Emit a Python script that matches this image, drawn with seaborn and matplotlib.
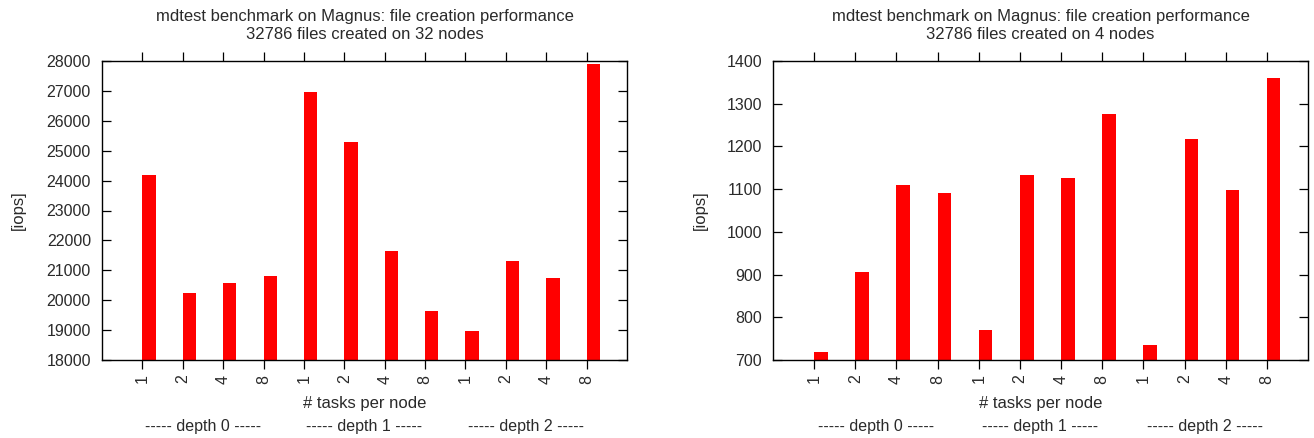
import matplotlib
matplotlib.use("Agg")
import matplotlib.pyplot as plt
import matplotlib.transforms as mtransforms
import seaborn as sns
import pandas as pd
import numpy as np

# ---- data ----
task_labels = ["1", "2", "4", "8", "1", "2", "4", "8", "1", "2", "4", "8"]
depth_labels = ["----- depth 0 -----", "----- depth 1 -----", "----- depth 2 -----"]
iops_32_nodes = [24190, 20235, 20585, 20810, 26975, 25280, 21655, 19630, 18965, 21300, 20730, 27910]
iops_4_nodes = [718, 905, 1110, 1092, 771, 1134, 1125, 1275, 734, 1217, 1098, 1360]
titles = [
    "mdtest benchmark on Magnus: file creation performance\n32786 files created on 32 nodes",
    "mdtest benchmark on Magnus: file creation performance\n32786 files created on 4 nodes",
]
ylims = [(18000, 28000), (700, 1400)]
yticks = [list(range(18000, 28001, 1000)), list(range(700, 1401, 100))]

sns.set_theme(style="ticks")
plt.rcParams["font.family"] = ["Liberation Sans", "DejaVu Sans"]
TXT = "#2a2a2a"
plt.rcParams["text.color"] = TXT
plt.rcParams["axes.labelcolor"] = TXT
plt.rcParams["xtick.color"] = "black"
plt.rcParams["ytick.color"] = "black"
plt.rcParams["xtick.labelcolor"] = TXT
plt.rcParams["ytick.labelcolor"] = TXT

fig = plt.figure(figsize=(13.14, 4.38), dpi=100)
axes_rects = [
    [102 / 1314, 78 / 438, 525 / 1314, 299 / 438],
    [773 / 1314, 78 / 438, 535 / 1314, 299 / 438],
]
BAR_W = 0.33
tick_offset = -BAR_W / 2
ylabel_x = [-0.145, -0.122]
FS_TICK = 11.5
FS_LAB = 12

for k, values in enumerate([iops_32_nodes, iops_4_nodes]):
    ax = fig.add_axes(axes_rects[k])
    df = pd.DataFrame({"pos": list(range(len(values))), "iops": values})
    sns.barplot(data=df, x="pos", y="iops", color="#ff0000", saturation=1,
                width=BAR_W, linewidth=0, ax=ax)
    ax.set_ylim(*ylims[k])
    ax.set_yticks(yticks[k])
    ax.set_yticklabels([str(v) for v in yticks[k]], fontsize=FS_TICK)
    pos = np.arange(len(values)) + tick_offset
    ax.set_xticks(pos)
    ax.set_xticklabels(task_labels, rotation=90, fontsize=FS_TICK)
    ax.set_xlim(pos[0] - 1.0, pos[-1] + 1.0)
    ax.tick_params(axis="y", direction="in", length=6.5, width=0.9,
                   left=True, right=True, pad=8)
    ax.tick_params(axis="x", direction="out", length=6.5, width=0.9,
                   top=True, bottom=True, pad=4)
    for s in ax.spines.values():
        s.set_visible(True)
        s.set_linewidth(1.0)
        s.set_color("black")
    ax.set_xlabel("# tasks per node", fontsize=FS_LAB)
    ax.xaxis.set_label_coords(0.5, -0.122)
    ax.xaxis.label.set_va("top")
    ax.set_ylabel("[iops]", fontsize=FS_LAB)
    ax.yaxis.set_label_coords(ylabel_x[k], 0.5)
    ax.set_title(titles[k], fontsize=FS_LAB, pad=16, linespacing=1.25)
    trans = mtransforms.blended_transform_factory(ax.transData, ax.transAxes)
    for g, lab in enumerate(depth_labels):
        ax.text(g * 4 + 1.5 + tick_offset, -0.224, lab, transform=trans,
                ha="center", va="center", fontsize=FS_TICK)

fig.savefig("out.png", dpi=100)
